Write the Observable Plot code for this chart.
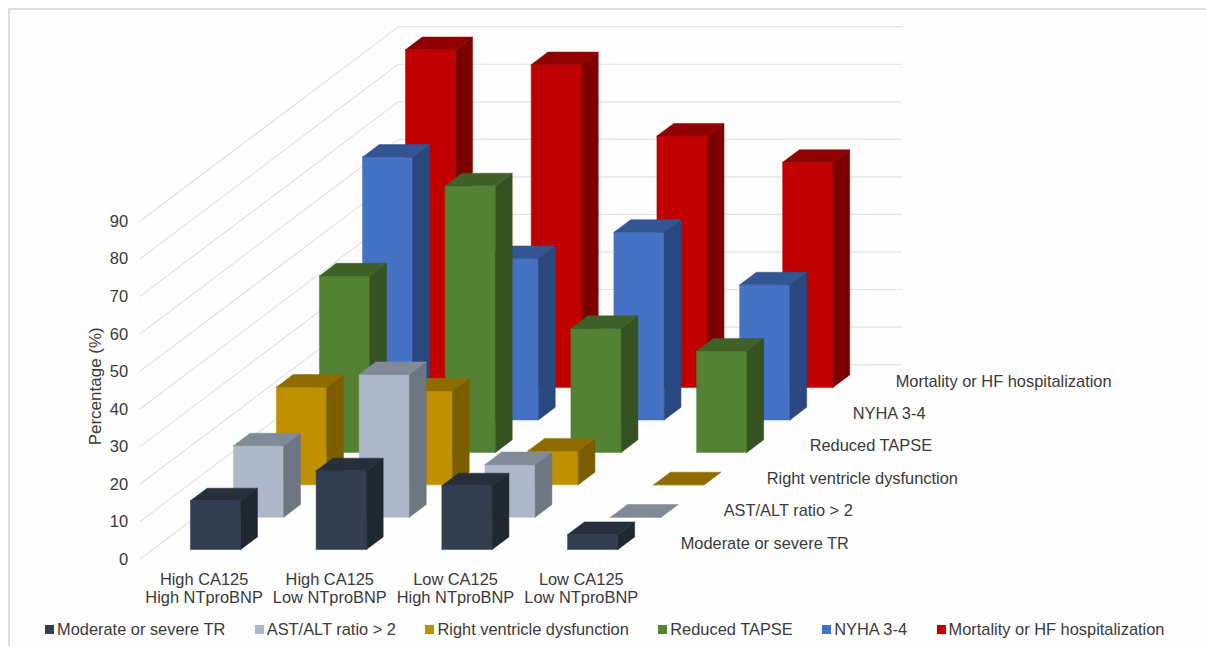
<!DOCTYPE html>
<html>
<head>
<meta charset="utf-8">
<script src="https://cdn.jsdelivr.net/npm/d3@7"></script>
<script src="https://cdn.jsdelivr.net/npm/@observablehq/plot@0.6"></script>
<style>
  html, body { margin: 0; padding: 0; background: #fff; }
  #sheet {
    position: absolute; left: 8px; top: 8px; width: 1198px; height: 638px;
    border-top: 2px solid #dedede; border-left: 2px solid #dedede;
    box-sizing: border-box; background: #fefefe;
  }
  #chart { position: absolute; left: 0; top: 0; }
  #chart svg { display: block; background: none; }
  #legend {
    position: absolute; left: 45px; top: 612px; width: 1161px; height: 34px;
    display: flex; align-items: center; gap: 29.5px;
    font: 16.4px "Liberation Sans", Arial, sans-serif; color: #3a3a3a;
  }
  #legend span { display: inline-flex; align-items: center; white-space: nowrap; }
  #legend i { display: inline-block; width: 9px; height: 9px; margin-right: 3px; }
</style>
</head>
<body>
<div id="sheet"></div>
<div id="chart"></div>
<div id="legend"></div>
<script>
// Groups along the horizontal axis
const categories = [
  "High CA125\nHigh NTproBNP",
  "High CA125\nLow NTproBNP",
  "Low CA125\nHigh NTproBNP",
  "Low CA125\nLow NTproBNP"
];

// Series from the front row to the back row
const seriesNames = [
  "Moderate or severe TR",
  "AST/ALT ratio > 2",
  "Right ventricle dysfunction",
  "Reduced TAPSE",
  "NYHA 3-4",
  "Mortality or HF hospitalization"
];

// Percentages per group
const moderateTR = [13, 21, 17, 4];
const astAlt = [19, 38, 14, 0];
const rightVentricle = [26, 25, 9, 0];
const reducedTapse = [47, 71, 33, 27];
const nyha = [70, 43, 50, 36];
const mortality = [90, 86, 67, 60];
const seriesValues = [moderateTR, astAlt, rightVentricle, reducedTapse, nyha, mortality];

// Face shades per series
const frontColors = ["#333f50", "#adb9ca", "#bf9000", "#548235", "#4472c4", "#c00000"];
const topColors = ["#262f3c", "#818b98", "#8f6c00", "#3f6128", "#335593", "#900000"];
const sideColors = ["#1f2831", "#6e7681", "#7c5e00", "#355322", "#2a4880", "#7c0000"];

const percentTicks = [0, 10, 20, 30, 40, 50, 60, 70, 80, 90];

// Oblique projection: each row of depth shifts right and up on the page
const rows = seriesNames.length;
const skewX = 0.3421;   // groups per row
const skewY = 8.63;     // percentage points per row
const place = (group, depth, value) => ({x: group + depth * skewX, y: value + depth * skewY});

// Painter's order: back row first, so that nearer bars cover farther ones
const faces = [];
for (let row = rows - 1; row >= 0; --row) {
  seriesValues[row].forEach((value, group) => {
    const g0 = group + 0.3, g1 = group + 0.7;
    const d0 = row + 0.29, d1 = row + 0.68;
    const addFace = (name, fill, corners) => {
      const key = `${row}-${group}-${name}`;
      [...corners, corners[0]].forEach(([g, d, v]) => faces.push({key, fill, ...place(g, d, v)}));
    };
    addFace("front", frontColors[row], [[g0, d0, 0], [g1, d0, 0], [g1, d0, value], [g0, d0, value]]);
    addFace("side", sideColors[row], [[g1, d0, 0], [g1, d1, 0], [g1, d1, value], [g1, d0, value]]);
    addFace("top", topColors[row], [[g0, d0, value], [g1, d0, value], [g1, d1, value], [g0, d1, value]]);
  });
}

// Each gridline runs up the side wall and then across the back wall
const grid = percentTicks.flatMap((level) => [
  {level, ...place(0, 0, level)},
  {level, ...place(0, rows, level)},
  {level, ...place(categories.length, rows, level)}
]);

const groupLabels = categories.map((label, group) => ({label, ...place(group + 0.5, 0, 0)}));
const rowLabels = seriesNames.map((label, row) => ({label, ...place(categories.length, row + 0.5, 0)}));
const tickLabels = percentTicks.map((level) => ({label: String(level), ...place(0, 0, level)}));

const inkColor = "#3a3a3a";
const chart = Plot.plot({
  width: 1206,
  height: 612,
  margin: 0,
  x: {axis: null, domain: [0, categories.length + rows * skewX], range: [139.7, 900.7]},
  y: {axis: null, domain: [0, 90 + rows * skewY], range: [558.5, 26.2]},
  color: {type: "identity"},
  style: {fontFamily: "'Liberation Sans', Arial, sans-serif", background: "none"},
  marks: [
    Plot.line(grid, {x: "x", y: "y", z: "level", stroke: "#e2e2e2", strokeWidth: 1.2}),
    Plot.line(faces, {x: "x", y: "y", z: "key", fill: "fill", stroke: "fill", strokeWidth: 0.5}),
    Plot.text(tickLabels, {x: "x", y: "y", text: "label", textAnchor: "end", dx: -12, dy: 0.5, fontSize: 16.5, fill: inkColor}),
    Plot.text(groupLabels, {x: "x", y: "y", text: "label", lineHeight: 1.1, dx: 1, dy: 29, fontSize: 16.4, fill: inkColor}),
    Plot.text(rowLabels, {x: "x", y: "y", text: "label", textAnchor: "start", dx: 16, dy: 0.5, fontSize: 16.4, fill: inkColor}),
    Plot.text(["Percentage (%)"], {x: () => 0, y: () => 46, text: (d) => d, rotate: -90, dx: -45, fontSize: 17, fill: inkColor})
  ]
});
document.getElementById("chart").append(chart);

// Legend row beneath the plot
d3.select("#legend").selectAll("span").data(seriesNames).join("span")
  .html((name) => `<i></i>${name.replace(">", "&gt;")}`)
  .select("i").style("background", (_, i) => frontColors[i]);
</script>
</body>
</html>
